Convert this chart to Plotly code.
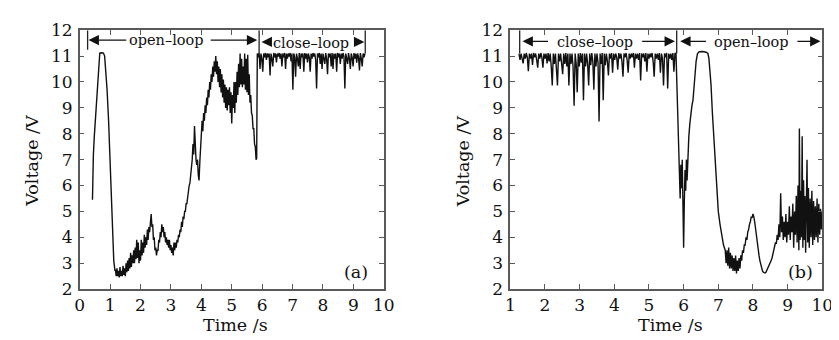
import plotly.graph_objects as go

# ---------------- data (time s, voltage V) ----------------
a_open = [
    (0.42, 5.45), (0.43, 6.9), (0.44, 6.3), (0.45, 7.2), (0.48, 7.9), (0.52, 8.7), (0.56, 9.5),
    (0.60, 10.4), (0.63, 10.9), (0.66, 11.12), (0.72, 11.13), (0.78, 11.12), (0.82, 11.0),
    (0.86, 10.4), (0.90, 9.7), (0.95, 8.5), (1.00, 7.0), (1.04, 5.5), (1.08, 4.0), (1.12, 3.1),
    (1.16, 2.7), (1.175, 2.75), (1.2, 2.5), (1.225, 2.8), (1.25, 2.5), (1.275, 2.7), (1.3, 2.45),
    (1.325, 2.85), (1.35, 2.5), (1.375, 2.7), (1.4, 2.5), (1.425, 2.9), (1.45, 2.55), (1.475, 2.8),
    (1.5, 2.5), (1.525, 3.0), (1.55, 2.65), (1.575, 3.1), (1.6, 2.7), (1.625, 3.2), (1.65, 2.8),
    (1.675, 3.4), (1.7, 2.85), (1.725, 3.3), (1.75, 3.0), (1.775, 3.5), (1.8, 3.0), (1.825, 3.6),
    (1.85, 3.15), (1.875, 3.9), (1.9, 3.2), (1.925, 3.8), (1.95, 3.0), (1.975, 3.5), (2.0, 3.1),
    (2.025, 3.9), (2.05, 3.3), (2.075, 3.8), (2.1, 3.4), (2.125, 4.1), (2.15, 3.6), (2.175, 4.0),
    (2.2, 3.7), (2.225, 4.3), (2.25, 3.9), (2.275, 4.4), (2.3, 4.2), (2.325, 4.6), (2.35, 4.9),
    (2.375, 4.4), (2.4, 4.5), (2.425, 3.9), (2.45, 4.0), (2.475, 3.5), (2.5, 3.6), (2.525, 3.3),
    (2.55, 3.5), (2.575, 3.5), (2.6, 3.9), (2.625, 3.8), (2.65, 4.2), (2.675, 4.0), (2.7, 4.5),
    (2.725, 4.2), (2.75, 4.4), (2.775, 4.0), (2.8, 4.2), (2.825, 3.8), (2.85, 4.0), (2.875, 3.7),
    (2.9, 3.9), (2.925, 3.6), (2.95, 3.9), (2.975, 3.5), (3.0, 3.7), (3.025, 3.4), (3.05, 3.6),
    (3.075, 3.3), (3.1, 3.8), (3.125, 3.5), (3.15, 3.8), (3.175, 3.6), (3.2, 3.9), (3.225, 3.8),
    (3.25, 4.1), (3.275, 4.0), (3.3, 4.3), (3.325, 4.2), (3.35, 4.6), (3.375, 4.4), (3.4, 4.8),
    (3.425, 4.7), (3.45, 5.0), (3.475, 5.0), (3.5, 5.3), (3.525, 5.3), (3.55, 5.6), (3.575, 5.7),
    (3.6, 6.0), (3.625, 6.1), (3.65, 6.4), (3.675, 6.5), (3.7, 7.0), (3.725, 7.6), (3.75, 7.2),
    (3.775, 8.3), (3.8, 7.3), (3.825, 7.0), (3.85, 6.8), (3.875, 7.0), (3.9, 6.4), (3.925, 6.2),
    (3.95, 6.9), (3.975, 7.5), (4.0, 7.8), (4.025, 8.5), (4.05, 8.1), (4.075, 8.8), (4.1, 8.5),
    (4.125, 9.1), (4.15, 8.8), (4.175, 9.4), (4.2, 9.1), (4.225, 9.7), (4.25, 9.4), (4.275, 10.0),
    (4.3, 9.7), (4.325, 10.3), (4.35, 10.0), (4.375, 10.6), (4.4, 10.2), (4.425, 10.8), (4.45, 10.4),
    (4.475, 11.0), (4.5, 10.3), (4.525, 10.8), (4.55, 10.0), (4.575, 10.6), (4.6, 9.8), (4.625, 10.5),
    (4.65, 9.6), (4.675, 10.3), (4.7, 9.4), (4.725, 10.1), (4.75, 9.2), (4.775, 9.9), (4.8, 9.0),
    (4.825, 9.8), (4.85, 8.9), (4.875, 9.7), (4.9, 9.1), (4.925, 9.8), (4.95, 8.8), (4.975, 9.6),
    (5.0, 8.4), (5.025, 9.5), (5.05, 9.0), (5.075, 10.0), (5.1, 8.8), (5.125, 10.0), (5.15, 9.2),
    (5.175, 10.4), (5.2, 9.5), (5.225, 10.7), (5.25, 9.8), (5.275, 11.1), (5.3, 9.9), (5.325, 10.9),
    (5.35, 9.8), (5.375, 10.6), (5.4, 9.9), (5.425, 11.1), (5.45, 9.7), (5.475, 10.9), (5.5, 9.6),
    (5.525, 11.05), (5.55, 9.5), (5.575, 10.3), (5.6, 9.2), (5.625, 9.5), (5.65, 8.8), (5.675, 8.7),
    (5.7, 8.2), (5.725, 8.2), (5.75, 7.6), (5.775, 7.5), (5.8, 7.0), (5.82, 7.05),
]

a_closed = [
    (5.84, 11.1), (5.87, 10.95), (5.90, 11.12), (5.93, 10.5), (5.96, 11.1), (5.99, 10.9), (6.02, 10.4),
    (6.05, 11.1), (6.08, 10.95), (6.11, 11.12), (6.14, 10.85), (6.17, 11.1), (6.20, 10.95), (6.23, 11.1),
    (6.26, 10.25), (6.29, 11.1), (6.32, 10.9), (6.35, 10.6), (6.38, 11.12), (6.41, 10.95), (6.44, 11.1),
    (6.47, 10.76), (6.50, 11.1), (6.53, 10.98), (6.56, 11.12), (6.59, 10.9), (6.62, 11.1), (6.65, 10.6),
    (6.68, 11.1), (6.71, 10.95), (6.74, 11.12), (6.77, 10.5), (6.80, 11.1), (6.83, 10.9), (6.86, 11.1),
    (6.89, 10.98), (6.92, 11.12), (6.95, 10.8), (6.98, 11.1), (7.01, 9.7), (7.04, 11.1), (7.07, 10.95),
    (7.10, 10.2), (7.13, 11.1), (7.16, 10.9), (7.19, 10.6), (7.22, 11.12), (7.25, 10.5), (7.28, 11.1),
    (7.31, 10.95), (7.34, 11.1), (7.37, 10.4), (7.40, 11.12), (7.43, 10.9), (7.46, 11.1), (7.49, 10.76),
    (7.52, 11.1), (7.55, 10.95), (7.58, 10.4), (7.61, 11.1), (7.64, 10.9), (7.67, 11.12), (7.70, 10.98),
    (7.73, 11.1), (7.76, 10.85), (7.79, 9.75), (7.82, 11.1), (7.85, 10.95), (7.88, 11.12), (7.91, 10.7),
    (7.94, 11.1), (7.97, 10.5), (8.00, 11.1), (8.03, 10.95), (8.06, 10.7), (8.09, 11.12), (8.12, 10.9),
    (8.15, 10.3), (8.18, 11.1), (8.21, 10.95), (8.24, 11.1), (8.27, 10.6), (8.30, 11.12), (8.33, 10.5),
    (8.36, 11.1), (8.39, 10.9), (8.42, 11.1), (8.45, 10.4), (8.48, 11.12), (8.51, 10.95), (8.54, 11.1),
    (8.57, 10.7), (8.60, 11.1), (8.63, 10.9), (8.66, 11.12), (8.69, 10.98), (8.72, 9.75), (8.75, 11.1),
    (8.78, 10.95), (8.81, 10.7), (8.84, 11.12), (8.87, 10.9), (8.90, 10.5), (8.93, 11.1), (8.96, 10.95),
    (8.99, 10.6), (9.02, 11.12), (9.05, 10.9), (9.08, 11.1), (9.11, 10.75), (9.14, 11.1), (9.17, 10.95),
    (9.20, 10.45), (9.23, 11.12), (9.26, 10.9), (9.29, 10.6), (9.32, 11.1), (9.35, 10.95), (9.38, 11.1),
]

b_closed = [
    (1.25, 11.1), (1.28, 10.85), (1.31, 11.1), (1.34, 10.95), (1.37, 10.72), (1.40, 11.1), (1.43, 10.9),
    (1.46, 11.12), (1.49, 10.95), (1.52, 10.42), (1.55, 11.1), (1.58, 10.9), (1.61, 11.1), (1.64, 10.66),
    (1.67, 11.12), (1.70, 10.95), (1.73, 11.1), (1.76, 10.85), (1.79, 10.55), (1.82, 11.1), (1.85, 10.9),
    (1.88, 11.12), (1.91, 10.95), (1.94, 10.55), (1.97, 11.1), (2.00, 10.9), (2.03, 11.1), (2.06, 10.72),
    (2.09, 11.12), (2.12, 10.8), (2.15, 11.1), (2.18, 10.6), (2.21, 9.87), (2.24, 11.1), (2.27, 10.7),
    (2.30, 11.1), (2.33, 10.6), (2.36, 9.87), (2.39, 11.1), (2.42, 10.8), (2.45, 11.1), (2.48, 10.65),
    (2.51, 10.3), (2.54, 11.1), (2.57, 10.7), (2.60, 11.12), (2.63, 10.6), (2.66, 11.1), (2.69, 9.87),
    (2.72, 11.1), (2.75, 10.7), (2.78, 11.1), (2.81, 10.6), (2.84, 9.08), (2.87, 11.1), (2.90, 10.7),
    (2.93, 9.6), (2.96, 11.1), (2.99, 10.6), (3.02, 11.12), (3.05, 10.75), (3.08, 11.1), (3.11, 9.3),
    (3.14, 11.1), (3.17, 10.6), (3.20, 11.1), (3.23, 10.7), (3.26, 9.87), (3.29, 11.1), (3.32, 10.65),
    (3.35, 11.12), (3.38, 10.8), (3.41, 9.7), (3.44, 11.1), (3.47, 10.6), (3.50, 11.1), (3.53, 10.75),
    (3.56, 8.47), (3.59, 11.1), (3.62, 10.7), (3.65, 11.12), (3.68, 9.3), (3.71, 11.1), (3.74, 10.65),
    (3.77, 11.1), (3.80, 10.8), (3.83, 10.25), (3.86, 11.1), (3.89, 10.9), (3.92, 11.12), (3.95, 10.36),
    (3.98, 11.1), (4.01, 10.85), (4.04, 11.1), (4.07, 10.95), (4.10, 10.48), (4.13, 11.12), (4.16, 10.9),
    (4.19, 11.1), (4.22, 10.8), (4.25, 10.2), (4.28, 11.1), (4.31, 10.95), (4.34, 11.12), (4.37, 10.85),
    (4.40, 10.36), (4.43, 11.1), (4.46, 10.9), (4.49, 11.1), (4.52, 10.95), (4.55, 11.12), (4.58, 10.55),
    (4.61, 11.1), (4.64, 10.9), (4.67, 11.1), (4.70, 10.85), (4.73, 11.12), (4.76, 10.06), (4.79, 11.1),
    (4.82, 10.95), (4.85, 11.1), (4.88, 10.8), (4.91, 11.12), (4.94, 10.4), (4.97, 11.1), (5.00, 10.9),
    (5.03, 11.1), (5.06, 10.95), (5.09, 11.12), (5.12, 10.8), (5.15, 10.2), (5.18, 11.1), (5.21, 10.9),
    (5.24, 11.1), (5.27, 10.85), (5.30, 11.12), (5.33, 10.36), (5.36, 11.1), (5.39, 10.9), (5.42, 9.87),
    (5.45, 11.1), (5.48, 10.95), (5.51, 11.12), (5.54, 9.75), (5.57, 11.1), (5.60, 10.9), (5.63, 11.1),
    (5.66, 10.85), (5.69, 11.12), (5.72, 10.4), (5.75, 11.1),
]

b_open = [
    (5.78, 11.1), (5.80, 10.2), (5.82, 9.3), (5.84, 8.3), (5.86, 7.4), (5.88, 6.5), (5.90, 5.5),
    (5.92, 6.8), (5.94, 5.9), (5.96, 7.0), (5.98, 5.2), (6.00, 3.6), (6.02, 5.4), (6.04, 6.6),
    (6.06, 5.8), (6.08, 7.0), (6.10, 6.2), (6.12, 7.4), (6.15, 7.9), (6.18, 8.4), (6.21, 8.8),
    (6.24, 9.1), (6.27, 9.3), (6.30, 9.7), (6.33, 10.3), (6.36, 10.8), (6.40, 11.1), (6.45, 11.17),
    (6.55, 11.18), (6.65, 11.15), (6.70, 11.1), (6.73, 10.9), (6.76, 10.4), (6.79, 9.9), (6.83, 8.8),
    (6.87, 7.8), (6.91, 6.8), (6.95, 5.9), (7.00, 5.0), (7.05, 4.5), (7.10, 4.1), (7.15, 3.7),
    (7.20, 3.5), (7.225, 3.0), (7.25, 3.5), (7.275, 2.9), (7.3, 3.6), (7.325, 2.8), (7.35, 3.4),
    (7.375, 2.8), (7.4, 3.3), (7.425, 2.7), (7.45, 3.2), (7.475, 2.7), (7.5, 3.3), (7.525, 2.6),
    (7.55, 3.1), (7.575, 2.7), (7.6, 3.2), (7.625, 2.8), (7.65, 3.3), (7.675, 3.1), (7.7, 3.5),
    (7.725, 3.4), (7.75, 3.7), (7.775, 3.7), (7.8, 4.0), (7.825, 3.9), (7.85, 4.2), (7.875, 4.3),
    (7.9, 4.5), (7.925, 4.6), (7.95, 4.8), (7.975, 4.75), (8.0, 4.9), (8.025, 4.8), (8.05, 4.6),
    (8.075, 4.3), (8.1, 4.0), (8.125, 3.75), (8.15, 3.5), (8.175, 3.3), (8.2, 3.1), (8.225, 2.95),
    (8.25, 2.8), (8.275, 2.7), (8.3, 2.65), (8.325, 2.62), (8.35, 2.62), (8.375, 2.65), (8.4, 2.72),
    (8.425, 2.8), (8.45, 2.85), (8.475, 2.95), (8.5, 3.0), (8.525, 3.1), (8.55, 3.2), (8.575, 3.35),
    (8.6, 3.5), (8.625, 3.6), (8.65, 3.8), (8.675, 3.75), (8.7, 4.1), (8.725, 3.9), (8.75, 4.5),
    (8.775, 4.0), (8.8, 5.7), (8.825, 4.2), (8.85, 4.8), (8.875, 3.9), (8.9, 4.6), (8.925, 4.0),
    (8.95, 4.9), (8.975, 3.8), (9.0, 4.6), (9.025, 4.1), (9.05, 5.2), (9.075, 3.9), (9.1, 4.8),
    (9.125, 4.2), (9.15, 5.3), (9.175, 3.6), (9.2, 5.0), (9.225, 4.1), (9.25, 5.6), (9.275, 3.8),
    (9.3, 6.0), (9.325, 3.5), (9.34, 8.2), (9.36, 3.9), (9.38, 5.8), (9.4, 4.0), (9.42, 7.9),
    (9.44, 3.6), (9.46, 6.2), (9.48, 3.9), (9.5, 5.6), (9.52, 3.4), (9.54, 6.5), (9.56, 7.0),
    (9.58, 3.8), (9.6, 5.9), (9.625, 3.6), (9.65, 5.5), (9.675, 4.0), (9.7, 5.8), (9.725, 3.7),
    (9.75, 5.4), (9.775, 3.9), (9.8, 5.2), (9.825, 4.0), (9.85, 5.5), (9.875, 3.8), (9.9, 5.3),
    (9.925, 4.1), (9.95, 5.1), (9.975, 4.3), (10.0, 5.0),
]

x_range_a = [0, 10]
x_range_b = [1, 10]
y_range = [2, 12]
y_title = "Voltage /V"
x_title = "Time /s"
panel_labels = ["(a)", "(b)"]

# ---------------- figure ----------------
FONT = "DejaVu Serif"
W, H = 839, 340
LINE_COL = "#111111"
FRAME_COL = "#5a5a5a"

def px_x(p):
    return p / W

def px_y(p):
    return 1 - p / H

fig = go.Figure()

ta = [p[0] for p in a_open + a_closed]
va = [p[1] for p in a_open + a_closed]
tb = [p[0] for p in b_closed + b_open]
vb = [p[1] for p in b_closed + b_open]

fig.add_trace(go.Scatter(x=ta, y=va, mode="lines", line=dict(color=LINE_COL, width=1.4),
                         xaxis="x", yaxis="y", showlegend=False))
fig.add_trace(go.Scatter(x=tb, y=vb, mode="lines", line=dict(color=LINE_COL, width=1.4),
                         xaxis="x2", yaxis="y2", showlegend=False))

tickfont = dict(family=FONT, size=17, color="#111")
common = dict(ticks="inside", ticklen=5, tickwidth=1, tickcolor=FRAME_COL, mirror="ticks",
              showline=True, linecolor=FRAME_COL, linewidth=1.5, showgrid=False,
              zeroline=False, tickfont=tickfont, dtick=1)

dom_y = [px_y(288), px_y(13)]
fig.update_layout(
    width=W, height=H, margin=dict(l=0, r=0, t=0, b=0),
    paper_bgcolor="white", plot_bgcolor="white",
    xaxis=dict(domain=[px_x(68), px_x(378)], range=x_range_a, anchor="y",
               ticklabelstandoff=0, **common),
    yaxis=dict(domain=dom_y, range=y_range, anchor="x", ticklabelstandoff=2, **common),
    xaxis2=dict(domain=[px_x(507), px_x(825)], range=x_range_b, anchor="y2",
                ticklabelstandoff=0, **common),
    yaxis2=dict(domain=dom_y, range=y_range, anchor="x2", ticklabelstandoff=2, **common),
)

anns = []
title_font = dict(family=FONT, size=17.5, color="#111")
# axis titles
for xc in (19, 459):
    anns.append(dict(text=y_title, x=px_x(xc), y=px_y(152), xref="paper", yref="paper",
                     textangle=-90, showarrow=False, xanchor="center", yanchor="middle",
                     font=title_font))
for xc in (226.7, 670):
    anns.append(dict(text=x_title, x=px_x(xc), y=px_y(326), xref="paper", yref="paper",
                     showarrow=False, xanchor="center", yanchor="middle",
                     font=title_font))
# panel labels
anns.append(dict(text=panel_labels[0], x=9.1, y=2.65, xref="x", yref="y", showarrow=False,
                 font=dict(family=FONT, size=17.5, color="#111")))
anns.append(dict(text=panel_labels[1], x=9.38, y=2.65, xref="x2", yref="y2", showarrow=False,
                 font=dict(family=FONT, size=17.5, color="#111")))

lab_font = dict(family=FONT, size=14.5, color="#111")

def label(text, x, y, xr, yr):
    anns.append(dict(text=text, x=x, y=y, xref=xr, yref=yr, showarrow=False,
                     xanchor="center", yanchor="middle", font=lab_font))

def arrow(x_head, x_tail, y, xr, yr):
    anns.append(dict(text="", x=x_head, y=y, ax=x_tail, ay=y, xref=xr, yref=yr,
                     axref=xr, ayref=yr, showarrow=True, arrowhead=2, arrowsize=1.6,
                     arrowwidth=1.3, arrowcolor="#111"))

# panel (a)
label("open–loop", 2.87, 11.62, "x", "y")
arrow(0.29, 1.58, 11.62, "x", "y")
arrow(5.84, 4.26, 11.62, "x", "y")
label("close–loop", 7.6, 11.52, "x", "y")
arrow(5.98, 6.35, 11.55, "x", "y")
arrow(9.36, 8.98, 11.55, "x", "y")
# panel (b)
label("close–loop", 3.43, 11.55, "x2", "y2")
arrow(1.35, 2.13, 11.57, "x2", "y2")
arrow(5.75, 4.76, 11.57, "x2", "y2")
label("open–loop", 7.95, 11.55, "x2", "y2")
arrow(5.9, 6.69, 11.57, "x2", "y2")
arrow(9.95, 9.24, 11.57, "x2", "y2")

fig.update_layout(annotations=anns)

shapes = []
def vline(x, y0, y1, xr, yr):
    shapes.append(dict(type="line", x0=x, x1=x, y0=y0, y1=y1, xref=xr, yref=yr,
                       line=dict(color="#222", width=1.3)))

vline(0.26, 11.25, 12, "x", "y")
vline(5.9, 11.1, 12, "x", "y")
vline(9.39, 11.1, 12, "x", "y")
vline(1.27, 11.1, 12, "x2", "y2")
vline(5.8, 11.1, 12, "x2", "y2")
fig.update_layout(shapes=shapes)

fig.write_html("out.html")
